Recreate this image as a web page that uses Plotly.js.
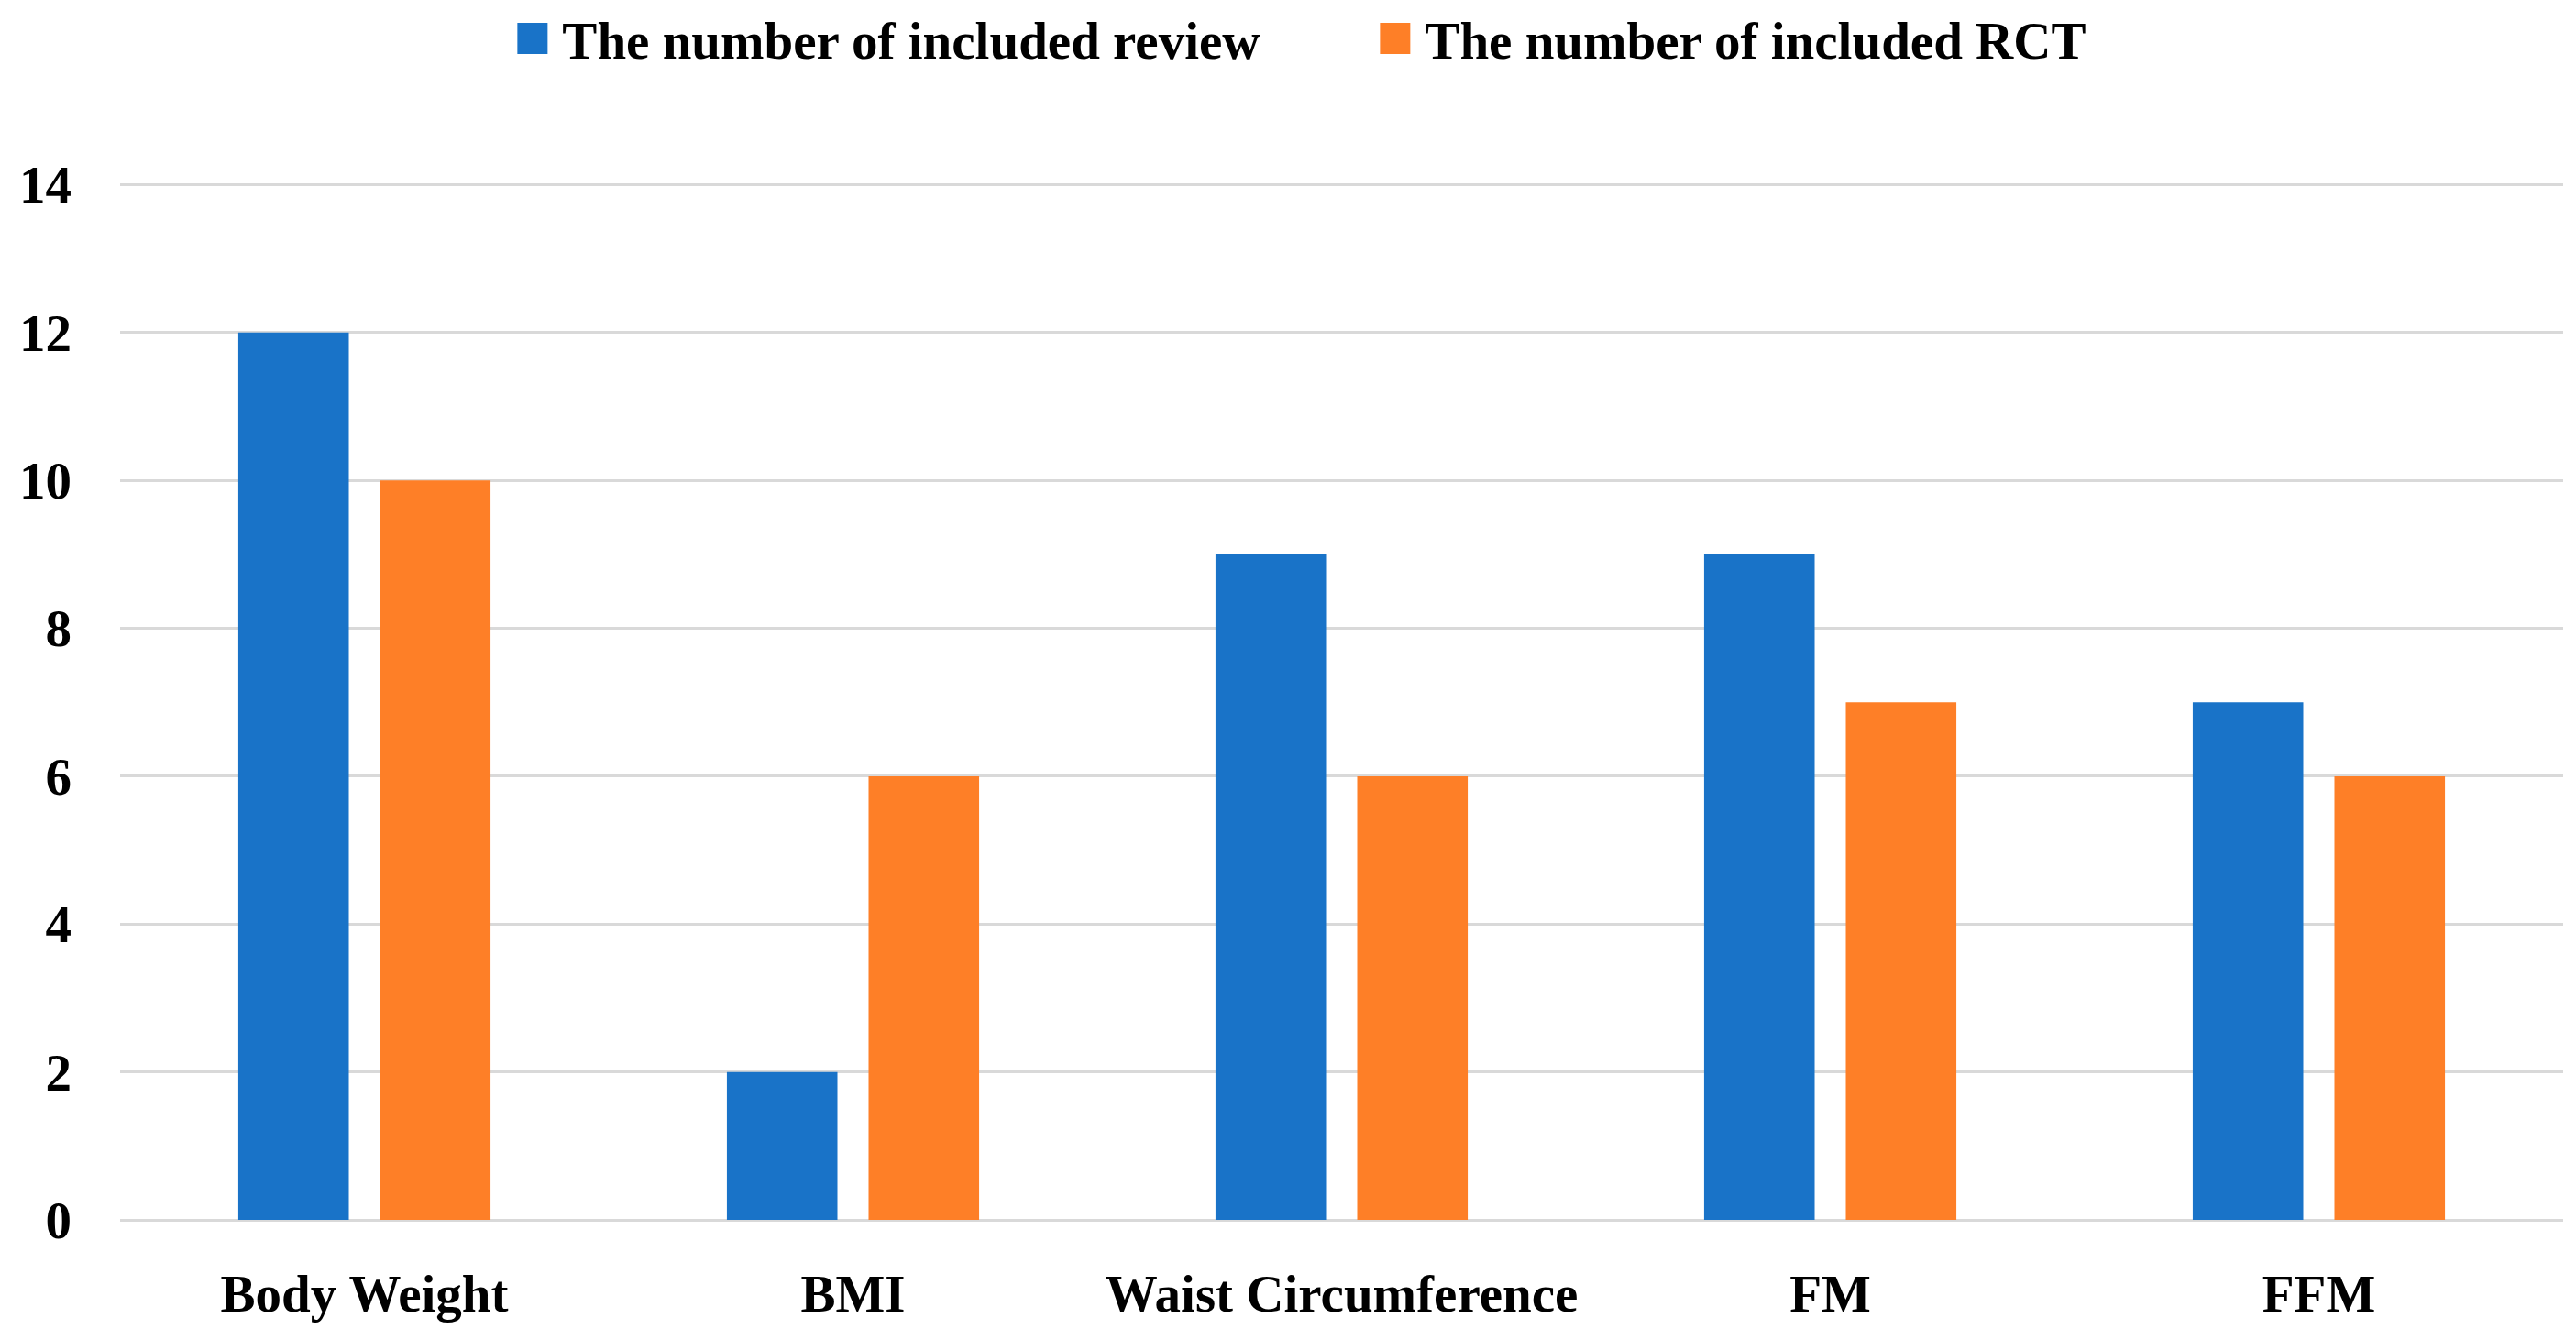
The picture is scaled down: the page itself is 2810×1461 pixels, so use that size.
<!DOCTYPE html>
<html>
<head>
<meta charset="utf-8">
<script src="https://cdn.plot.ly/plotly-3.0.1.min.js"></script>
<style>html,body{margin:0;padding:0;background:#fff;}#chart{width:2810px;height:1461px;}</style>
</head>
<body>
<div id="chart"></div>
<script>
const categories = ["Body Weight", "BMI", "Waist Circumference", "FM", "FFM"];
const reviewCounts = [12, 2, 9, 9, 7];
const rctCounts = [10, 6, 6, 7, 6];
const seriesNames = ["The number of included review", "The number of included RCT"];
const yTicks = [0, 2, 4, 6, 8, 10, 12, 14];

const FONT = "Liberation Serif, Times New Roman, serif";

const traces = [
  {type: "bar", name: seriesNames[0], x: categories, y: reviewCounts,
   marker: {color: "#1973c8", line: {width: 0}}, hoverinfo: "x+y"},
  {type: "bar", name: seriesNames[1], x: categories, y: rctCounts,
   marker: {color: "#fe7f27", line: {width: 0}}, hoverinfo: "x+y"}
];

const layout = {
  width: 2810, height: 1461,
  margin: {l: 131, r: 14, t: 199, b: 130},
  paper_bgcolor: "#fff", plot_bgcolor: "#fff",
  font: {family: FONT, size: 57, color: "#000", weight: "bold"},
  barmode: "group",
  bargap: 0.42,
  bargroupgap: 0.22,
  showlegend: true,
  legend: {
    orientation: "h", xref: "container", yref: "container",
    x: 0.5318, y: 0.971, xanchor: "center", yanchor: "middle",
    font: {family: FONT, size: 57, color: "#000", weight: "bold"},
    itemwidth: 50, entrywidth: 876, entrywidthmode: "pixels",
    bgcolor: "rgba(0,0,0,0)", traceorder: "normal"
  },
  xaxis: {
    type: "category", showgrid: false, zeroline: false, showline: false,
    ticks: "", ticklabelstandoff: 42,
    tickfont: {family: FONT, size: 57, color: "#000", weight: "bold"}
  },
  yaxis: {
    range: [0, 14.03], tickvals: yTicks, ticktext: yTicks.map(String),
    showgrid: true, gridcolor: "#d9d9d9", gridwidth: 3,
    zeroline: true, zerolinecolor: "#d9d9d9", zerolinewidth: 3,
    showline: false, ticks: "", ticklabelstandoff: 52,
    tickfont: {family: FONT, size: 57, color: "#000", weight: "bold"}
  }
};

Plotly.newPlot("chart", traces, layout, {displayModeBar: false, staticPlot: true}).then(function (gd) {
  // enlarge the legend swatches to match the reference's square markers
  gd.querySelectorAll(".legend .legendpoints path").forEach(function (p) {
    p.setAttribute("d", "M14,17H-19V-17H14Z");
  });
});
</script>
</body>
</html>
